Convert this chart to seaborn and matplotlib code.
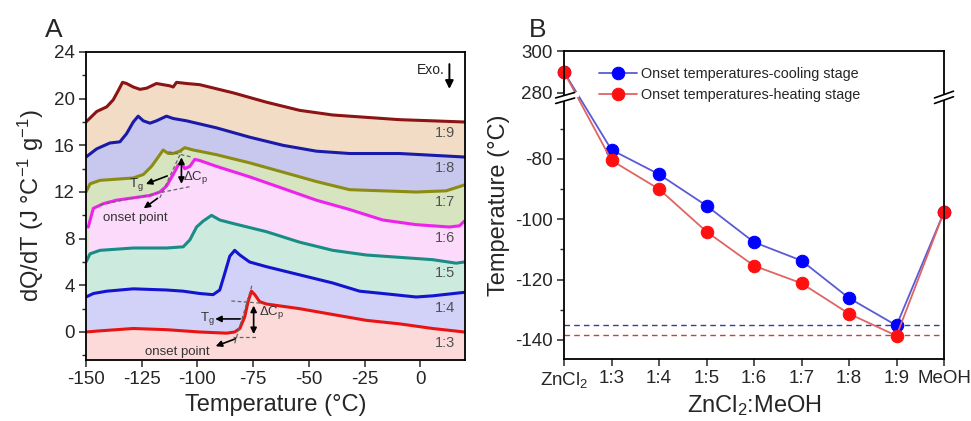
import numpy as np
import pandas as pd
import matplotlib
matplotlib.use("Agg")
import matplotlib.pyplot as plt
from matplotlib.ticker import FixedLocator, MultipleLocator
from matplotlib.patches import Polygon
import seaborn as sns

# ---------------- data: panel A (DSC curves) ----------------
t_19 = [-150, -145.2, -140.7, -137.8, -135.5, -133.6, -131.8, -128.8, -125.8, -122.8, -118.4, -115.4, -112.4,
        -110.9, -109.4, -104.9, -99, -84, -69.1, -54.2, -39.3, -24.3, -9.4, 5.5, 19.7]
q_19 = [18.0, 18.9, 19.3, 19.9, 20.7, 21.4, 21.3, 21.0, 20.8, 20.9, 21.3, 21.2, 21.1,
        21.0, 21.4, 21.3, 21.2, 20.5, 19.7, 19.0, 18.6, 18.4, 18.2, 18.1, 18.0]

t_18 = [-150, -145.2, -139.3, -134.8, -131.8, -128.8, -126.6, -124.3, -121.3, -118.4, -113.9, -110.9, -104.9,
        -91.5, -76.6, -61.6, -46.7, -31.8, -9.4, 19.7]
q_18 = [15.0, 15.7, 16.2, 16.3, 17.0, 18.0, 18.5, 18.1, 17.9, 18.1, 18.5, 18.3, 18.1,
        17.5, 16.7, 16.0, 15.5, 15.3, 15.3, 15.0]

t_17 = [-150, -148.2, -143.7, -136.3, -128.8, -124.3, -120.6, -117.6, -115.4, -113.1, -110.9, -107.9, -105.7,
        -101.9, -91.5, -76.6, -61.6, -46.7, -31.8, -16.9, -1.9, 11.5, 19.7]
q_17 = [12.0, 12.7, 13.0, 13.1, 13.2, 13.5, 14.2, 15.0, 15.6, 15.3, 15.3, 15.5, 15.8,
        15.6, 15.2, 14.5, 13.7, 12.9, 12.2, 12.1, 12.0, 12.1, 12.6]

t_16 = [-149.0, -146.7, -142.2, -136.3, -128.8, -121.3, -116.9, -113.9, -110.9, -108.7, -107.2, -105.7, -103.4,
        -101.2, -99.0, -91.5, -76.6, -61.6, -46.7, -31.8, -16.9, -1.9, 13.0, 17.5, 19.7]
q_16 = [9.0, 10.6, 11.0, 11.3, 11.5, 11.7, 12.0, 12.5, 13.5, 14.3, 14.5, 14.0, 14.2,
        14.8, 14.7, 14.2, 13.3, 12.3, 11.3, 10.5, 9.6, 9.2, 9.0, 9.1, 9.5]

t_15 = [-150, -148.2, -143.7, -128.8, -113.9, -106.4, -103.4, -100.4, -97.5, -93.7, -90.0, -84.0, -69.1,
        -54.2, -39.3, -24.3, -9.4, 5.5, 16.0, 19.7]
q_15 = [6.0, 6.7, 7.0, 7.2, 7.2, 7.3, 7.9, 9.0, 9.5, 10.0, 9.6, 9.3, 8.6,
        7.7, 7.0, 6.6, 6.4, 6.2, 5.9, 6.0]

t_14 = [-150, -146.7, -140.7, -128.8, -113.9, -106.4, -99.0, -93.0, -90.0, -87.8, -85.5, -83.3, -81.0,
        -76.6, -69.1, -54.2, -39.3, -27.3, -16.9, -1.9, 5.5, 19.7]
q_14 = [3.0, 3.3, 3.5, 3.7, 3.6, 3.5, 3.3, 3.2, 3.6, 5.0, 6.5, 7.0, 6.6,
        6.0, 5.6, 4.9, 4.2, 3.5, 3.3, 3.0, 3.1, 3.4]

t_13 = [-150, -143.7, -136.3, -128.8, -113.9, -99.0, -87.0, -83.3, -81.0, -78.8, -77.3, -75.8, -74.3,
        -72.1, -69.1, -54.2, -39.3, -24.3, -9.4, 5.5, 19.7]
q_13 = [0.0, 0.1, 0.2, 0.3, 0.2, 0.0, -0.1, 0.0, 0.3, 1.3, 2.6, 3.5, 3.2,
        2.6, 2.4, 2.0, 1.5, 1.0, 0.7, 0.3, 0.0]

a_labels = ["1:9", "1:8", "1:7", "1:6", "1:5", "1:4", "1:3"]
a_label_y = [17.05, 14.05, 11.1, 8.05, 5.05, 2.05, -0.95]
a_ticks_x = [-150, -125, -100, -75, -50, -25, 0]
a_ticks_y = [0, 4, 8, 12, 16, 20, 24]

# ---------------- data: panel B (onset temperatures) ----------------
b_labels = ["ZnCl$_2$", "1:3", "1:4", "1:5", "1:6", "1:7", "1:8", "1:9", "MeOH"]
cool = [290, -77.0, -85.1, -95.5, -107.6, -113.7, -126.1, -135.2, -97.6]
heat = [290, -80.5, -90.0, -104.1, -115.4, -121.2, -131.3, -138.6, -97.6]
heat_min_line = -138.3
b_ticks_y = [-140, -120, -100, -80, 280, 300]
b_minor_y = [-130, -110, -90, -70]

# ---------------- style ----------------
sns.set_theme(style="ticks")
plt.rcParams["font.family"] = ["Liberation Sans", "DejaVu Sans"]
plt.rcParams["mathtext.default"] = "regular"
plt.rcParams["axes.linewidth"] = 1.3
plt.rcParams["axes.unicode_minus"] = False

fig = plt.figure(figsize=(9.71, 4.21), dpi=100)
axA = fig.add_axes([86 / 971, 1 - 360 / 421, 379 / 971, 308 / 421])
axB = fig.add_axes([564 / 971, 1 - 359 / 421, 380 / 971, 308 / 421])

# ---------------- panel A ----------------
line_cols = ["#8b1414", "#1a1aa8", "#8c8c12", "#ee22ee", "#1a8c86", "#1414d0", "#e81414"]
fill_cols = ["#f3dcc6", "#c8c8ee", "#d6e4c0", "#fcdafb", "#cdeadf", "#d2d2f8", "#fcdada"]
curves_t = [t_19, t_18, t_17, t_16, t_15, t_14, t_13]
curves_q = [q_19, q_18, q_17, q_16, q_15, q_14, q_13]
ymin_A = -2.4
for t, q, fc in zip(curves_t, curves_q, fill_cols):
    axA.fill_between(t, q, ymin_A, color=fc, lw=0, zorder=1)
for t, q, lc in zip(curves_t, curves_q, line_cols):
    sns.lineplot(x=t, y=q, ax=axA, color=lc, lw=2.2, sort=False, estimator=None, zorder=3)

axA.set_xlim(-150, 20)
axA.set_ylim(ymin_A, 24)
axA.xaxis.set_major_locator(FixedLocator(a_ticks_x))
axA.yaxis.set_major_locator(FixedLocator(a_ticks_y))
axA.yaxis.set_minor_locator(MultipleLocator(2))
axA.tick_params(axis="both", which="major", direction="out", length=5, width=1.1, labelsize=13.5, pad=3)
axA.tick_params(axis="y", which="minor", direction="out", length=3, width=1.0)
axA.set_xlabel("Temperature (°C)", fontsize=17, labelpad=4)
axA.set_ylabel("dQ/dT (J °C$^{-1}$ g$^{-1}$)", fontsize=17, labelpad=6)
for s in axA.spines.values():
    s.set_color("black")
    s.set_zorder(10)

for lab, yy in zip(a_labels, a_label_y):
    axA.text(11, yy, lab, fontsize=10.5, color="#505050", ha="center", va="center", zorder=5)

axA.text(-1.5, 22.5, "Exo.", fontsize=10, color="#222222", ha="left", va="center")
axA.annotate("", xy=(13, 20.6), xytext=(13, 23.2),
             arrowprops=dict(arrowstyle="-|>", color="black", lw=1.4, mutation_scale=12))

dash_kw = dict(color="#666666", lw=0.9, ls=(0, (3, 2)), zorder=4)
arrow_kw = dict(arrowstyle="-|>", color="black", lw=1.2, mutation_scale=9)
darrow_kw = dict(arrowstyle="<|-|>", color="black", lw=1.2, mutation_scale=9)
note_col = "#333333"

# 1:3 annotations
axA.plot([-84.8, -70.6], [2.66, 2.46], **dash_kw)
axA.plot([-84.0, -73.6], [-0.46, -0.46], **dash_kw)
axA.plot([-83.3, -75.5], [-0.97, 4.03], **dash_kw)
axA.annotate("", xy=(-74.8, 2.5), xytext=(-74.8, -0.42), arrowprops=darrow_kw, zorder=6)
axA.text(-72.5, 1.65, "ΔC$_p$", fontsize=9.5, color=note_col, ha="left", va="center")
axA.text(-98.8, 1.15, "T$_g$", fontsize=9.5, color=note_col, ha="left", va="center")
axA.annotate("", xy=(-93.3, 1.12), xytext=(-79.6, 1.12), arrowprops=arrow_kw)
axA.text(-109, -1.7, "onset point", fontsize=9.5, color=note_col, ha="center", va="center")
axA.annotate("", xy=(-93.0, -1.3), xytext=(-81.8, -0.5), arrowprops=arrow_kw)

# 1:6 annotations
axA.plot([-113.0, -102.7], [15.45, 15.0], **dash_kw)
axA.plot([-143.7, -103.4], [10.9, 12.46], **dash_kw)
axA.plot([-116.9, -107.2], [11.5, 15.46], **dash_kw)
axA.annotate("", xy=(-107.2, 15.2), xytext=(-107.2, 12.46), arrowprops=darrow_kw, zorder=6)
axA.text(-106.3, 13.2, "ΔC$_p$", fontsize=9.5, color=note_col, ha="left", va="center")
axA.text(-130.5, 12.65, "T$_g$", fontsize=9.5, color=note_col, ha="left", va="center")
axA.annotate("", xy=(-124.3, 12.6), xytext=(-112.4, 13.46), arrowprops=arrow_kw)
axA.text(-128.1, 9.74, "onset point", fontsize=9.5, color=note_col, ha="center", va="center")
axA.annotate("", xy=(-125.1, 10.46), xytext=(-116.9, 11.6), arrowprops=arrow_kw)

fig.text(45 / 971, 1 - 30 / 421, "A", fontsize=19, ha="left", va="center")

# ---------------- panel B ----------------
xpos = list(range(len(b_labels)))
dfB = pd.DataFrame({"pos": xpos + xpos,
                    "T": cool + heat,
                    "stage": ["Onset temperatures-cooling stage"] * len(xpos)
                             + ["Onset temperatures-heating stage"] * len(xpos)})

sns.lineplot(data=dfB[dfB.stage.str.contains("cooling")], x="pos", y="T", ax=axB,
             color="#5a5ad8", lw=1.3, marker="o", markersize=9, markerfacecolor="#0000ff",
             markeredgecolor="#0000ff", label="Onset temperatures-cooling stage", clip_on=False, zorder=4)
sns.lineplot(data=dfB[dfB.stage.str.contains("heating")], x="pos", y="T", ax=axB,
             color="#e06464", lw=1.3, marker="o", markersize=9, markerfacecolor="#ff1010",
             markeredgecolor="#ff1010", label="Onset temperatures-heating stage", clip_on=False, zorder=5)

axB.axhline(min(cool), color="#3a3aa0", lw=1.0, ls=(0, (4, 3)), zorder=2)
axB.axhline(heat_min_line, color="#c84040", lw=1.0, ls=(0, (4, 3)), zorder=2)

LOW_TOP = -58.15
FAC = 0.695


def fwd(v):
    v = np.asarray(v, dtype=float)
    return np.where(v > 100, LOW_TOP + (v - 280) * FAC, v)


def inv(u):
    u = np.asarray(u, dtype=float)
    return np.where(u > -59.5, 280 + (u - LOW_TOP) / FAC, u)


axB.set_yscale("function", functions=(fwd, inv))
axB.set_ylim(-146.3, 300)
axB.set_xlim(0, 8)
axB.yaxis.set_major_locator(FixedLocator(b_ticks_y))
axB.yaxis.set_minor_locator(FixedLocator(b_minor_y))
axB.set_yticklabels([str(v) for v in b_ticks_y])
axB.xaxis.set_major_locator(FixedLocator(xpos))
axB.set_xticklabels(b_labels)
axB.tick_params(axis="both", which="major", direction="out", length=5, width=1.1, labelsize=13.5, pad=3)
axB.tick_params(axis="y", which="minor", direction="out", length=3, width=1.0)
axB.set_xlabel("ZnCl$_2$:MeOH", fontsize=17, labelpad=2)
axB.set_ylabel("Temperature (°C)", fontsize=17, labelpad=4)
for s in axB.spines.values():
    s.set_color("black")
    s.set_zorder(10)

leg = axB.legend(loc="upper left", bbox_to_anchor=(0.07, 0.975), frameon=False, fontsize=10.4,
                 handlelength=2.6, labelspacing=0.45, handletextpad=0.3, borderaxespad=0.2)

# axis break marks
lo = float(fwd(-146.3))
hi = float(fwd(300))
fb = (-59.6 - lo) / (hi - lo)
sl = 0.022
for x0, x1 in [(-0.022, 0.04), (0.975, 1.025)]:
    d1, d2 = -0.009, 0.009
    poly = Polygon([(x0, fb + d1 - sl / 2), (x1, fb + d1 + sl / 2), (x1, fb + d2 + sl / 2), (x0, fb + d2 - sl / 2)],
                   closed=True, transform=axB.transAxes, facecolor="white", edgecolor="none",
                   clip_on=False, zorder=20)
    axB.add_patch(poly)
    xe = x0 + 0.05
    for d in (d1, d2):
        axB.plot([x0, xe], [fb + d - sl / 2, fb + d - sl / 2 + sl * (xe - x0) / (x1 - x0)],
                 transform=axB.transAxes, color="black", lw=1.2, clip_on=False, zorder=21)

fig.text(529 / 971, 1 - 30 / 421, "B", fontsize=19, ha="left", va="center")

fig.savefig("out.png", dpi=100)
